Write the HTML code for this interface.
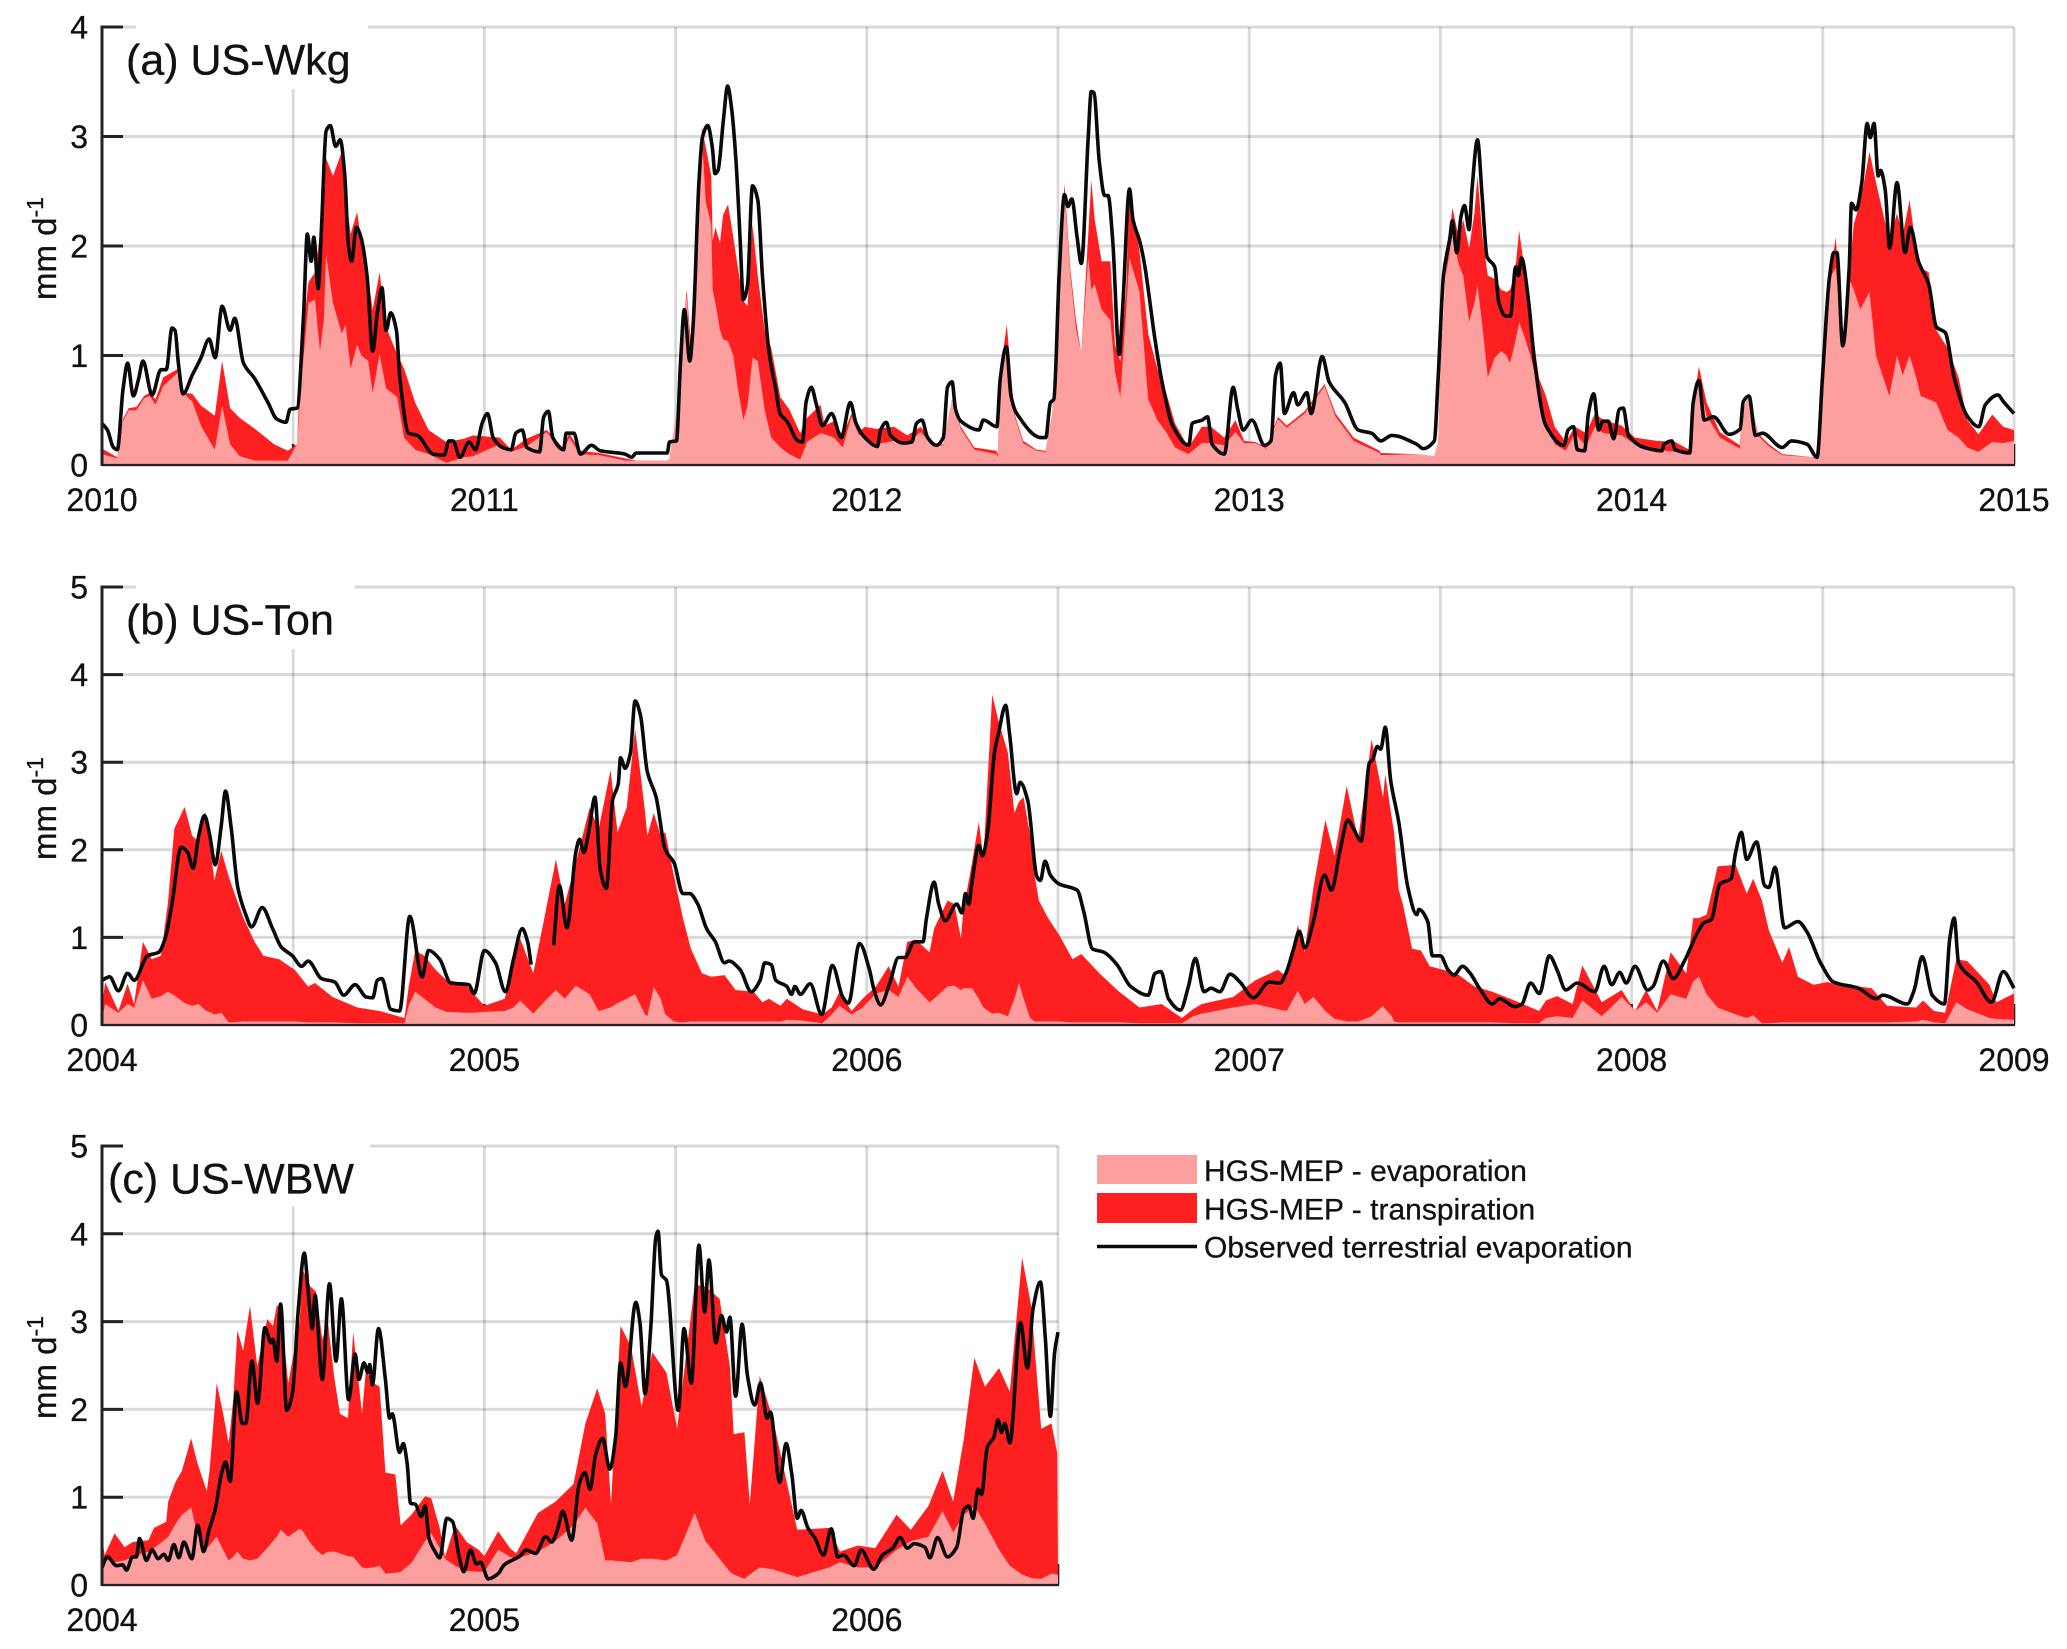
<!DOCTYPE html>
<html lang="en">
<head>
<meta charset="utf-8">
<title>HGS-MEP evaporation and transpiration</title>
<style>
html,body{margin:0;padding:0;background:#fff}
svg{display:block}
text{font-family:"Liberation Sans",Arial,sans-serif;fill:#111;stroke:#111;stroke-width:.3px}
</style>
</head>
<body>
<svg id="figure" xmlns="http://www.w3.org/2000/svg" width="2067" height="1649" viewBox="0 0 2067 1649"></svg>
<script>
/* Values. Time is in years since the start of each panel; values are mm/d. */
const wkgYearLabels = ['2010','2011','2012','2013','2014','2015'];
const wkgValueTicks = [0,1,2,3,4];
const wkgObsTime = [
0,.014,.03,.04,.055,.067,.082,.096,.107,.131,.154,.168,.183,.191,.2,.212,.236,.259,.28,.296,
.314,.335,.347,.37,.399,.434,.457,.481,.492,.51,.527,.537,.547,.554,.565,.574,.586,.597,.611,.623,
.635,.644,.653,.665,.677,.693,.708,.72,.732,.743,.755,.77,.779,.802,.825,.866,.895,.907,.918,.936,
.96,.977,.994,1.008,1.023,1.047,1.07,1.082,1.099,1.111,1.144,1.155,1.167,1.179,1.207,1.214,1.234,1.251,1.28,1.303,
1.368,1.385,1.397,1.478,1.484,1.502,1.513,1.523,1.537,1.546,1.561,1.57,1.584,1.596,1.603,1.611,1.625,1.636,1.646,1.657,
1.669,1.677,1.688,1.701,1.715,1.727,1.744,1.762,1.773,1.791,1.82,1.832,1.841,1.855,1.867,1.884,1.908,1.933,1.957,1.972,
1.995,2.028,2.036,2.051,2.062,2.095,2.118,2.13,2.144,2.159,2.182,2.2,2.211,2.223,2.232,2.246,2.293,2.305,2.34,2.349,
2.365,2.377,2.392,2.456,2.468,2.48,2.489,2.503,2.517,2.526,2.536,2.55,2.561,2.579,2.587,2.594,2.608,2.622,2.631,2.643,
2.66,2.669,2.687,2.696,2.713,2.725,2.754,2.772,2.801,2.842,2.851,2.877,2.891,2.903,2.935,2.958,2.97,2.984,3.007,3.04,
3.057,3.069,3.081,3.092,3.116,3.127,3.151,3.162,3.191,3.209,3.25,3.285,3.32,3.344,3.373,3.438,3.455,3.484,3.494,3.508,
3.525,3.531,3.543,3.554,3.563,3.575,3.583,3.597,3.609,3.622,3.642,3.653,3.671,3.683,3.697,3.704,3.712,3.73,3.747,3.776,
3.823,3.834,3.848,3.858,3.877,3.887,3.901,3.914,3.925,3.939,3.953,3.968,3.978,3.992,4.033,4.079,4.085,4.105,4.114,4.152,
4.161,4.176,4.19,4.214,4.255,4.284,4.292,4.307,4.324,4.342,4.394,4.418,4.459,4.485,4.499,4.517,4.529,4.537,4.552,4.569,
4.575,4.587,4.602,4.616,4.624,4.634,4.645,4.651,4.663,4.675,4.694,4.715,4.729,4.75,4.777,4.797,4.82,4.844,4.879,4.908,
4.925,4.958,4.972,5];
const wkgObsValues = [
.38,.32,.16,.14,.69,.93,.63,.79,.95,.64,.87,.87,1.25,1.23,.92,.65,.82,.98,1.15,.98,
1.45,1.23,1.34,.93,.79,.57,.42,.39,.51,.52,1.36,2.11,1.86,2.08,1.61,2.17,3.05,3.1,2.91,2.97,
2.64,2.02,1.86,2.17,2.08,1.73,1.04,1.39,1.62,1.23,1.39,1.23,.79,.29,.27,.1,.09,.22,.22,.07,
.21,.14,.38,.47,.25,.16,.14,.29,.32,.16,.12,.44,.49,.25,.14,.29,.29,.1,.18,.13,
.1,.07,.11,.11,.21,.22,.95,1.42,.95,1.29,2.58,2.99,3.1,2.9,2.66,2.69,3.15,3.46,3.27,2.83,
2.05,1.51,1.64,2.55,2.42,1.73,1.04,.69,.47,.4,.22,.21,.57,.71,.57,.36,.47,.25,.57,.38,
.25,.17,.32,.39,.27,.2,.21,.38,.41,.25,.18,.25,.71,.76,.51,.4,.32,.41,.35,.79,
1.08,.63,.47,.25,.25,.57,.6,1.73,2.47,2.36,2.43,2.08,1.84,2.99,3.41,3.4,2.77,2.46,2.46,2.05,
1.01,1.42,2.52,2.24,2.05,1.86,1.14,.76,.35,.18,.38,.41,.44,.19,.1,.71,.51,.32,.41,.18,
.22,.82,.93,.47,.66,.55,.66,.47,.99,.76,.57,.32,.29,.22,.27,.19,.15,.22,.79,1.73,
2.08,2.23,1.94,2.27,2.37,2.15,2.53,2.97,2.46,1.9,1.81,1.48,1.36,1.36,1.81,1.73,1.89,1.51,.92,.36,
.18,.32,.35,.14,.13,.47,.65,.32,.4,.4,.24,.51,.52,.27,.16,.13,.19,.22,.14,.11,
.57,.77,.41,.44,.28,.33,.58,.63,.27,.29,.16,.22,.19,.07,.79,1.7,1.94,1.94,1.09,1.8,
2.39,2.33,2.58,3.12,2.99,3.12,2.64,2.69,2.52,1.98,2.58,1.94,2.17,1.86,1.65,1.26,1.21,.79,.44,.35,
.55,.64,.58,.47];
const wkgFillTime = [
0,.04,.055,.07,.09,.11,.125,.14,.16,.2,.212,.236,.26,.295,.314,.335,.36,.4,.45,.486,
.51,.522,.54,.557,.57,.58,.586,.604,.627,.637,.65,.667,.678,.696,.708,.726,.743,.772,.79,.819,
.854,.9,.947,.97,1.04,1.07,1.11,1.163,1.205,1.222,1.25,1.3,1.368,1.397,1.478,1.484,1.502,1.52,1.529,1.54,
1.56,1.569,1.579,1.593,1.597,1.604,1.616,1.624,1.637,1.651,1.663,1.677,1.688,1.701,1.715,1.733,1.75,1.774,1.797,1.826,
1.844,1.879,1.89,1.914,1.937,1.96,1.978,1.995,2.024,2.071,2.106,2.141,2.176,2.2,2.223,2.246,2.281,2.339,2.343,2.347,
2.366,2.386,2.409,2.444,2.468,2.485,2.503,2.517,2.532,2.547,2.561,2.579,2.587,2.596,2.614,2.637,2.649,2.663,2.678,2.687,
2.713,2.736,2.76,2.783,2.806,2.841,2.876,2.9,2.935,2.964,2.987,3.016,3.045,3.075,3.098,3.145,3.197,3.226,3.273,3.341,
3.344,3.438,3.484,3.494,3.502,3.513,3.531,3.548,3.56,3.575,3.589,3.597,3.61,3.624,3.642,3.659,3.673,3.682,3.694,3.706,
3.717,3.735,3.758,3.776,3.799,3.828,3.852,3.881,3.904,3.927,3.974,4.009,4.067,4.114,4.151,4.161,4.176,4.196,4.231,4.283,
4.289,4.307,4.33,4.359,4.394,4.476,4.488,4.499,4.517,4.534,4.552,4.569,4.581,4.598,4.622,4.639,4.674,4.694,4.709,4.727,
4.744,4.756,4.777,4.797,4.826,4.855,4.878,4.907,4.943,4.972,5];
const wkgTotal = [
.15,.07,.42,.52,.53,.63,.66,.6,.8,.88,.66,.65,.54,.45,.95,.52,.43,.33,.19,.13,
.19,1.1,1.67,1.76,2.11,2.45,2.8,2.64,2.86,2.49,2.11,2.31,2.05,1.7,1.42,1.76,1.26,1.01,.88,.57,
.32,.21,.24,.27,.25,.14,.24,.32,.16,.29,.13,.11,.06,.04,.04,.06,.47,1.26,1.6,1.1,
2.6,3.08,2.9,2.64,2.05,2.17,2.03,2.28,2.38,2.08,1.8,1.5,1.45,2.2,1.73,1.23,1.07,.62,.51,.29,
.43,.55,.36,.4,.27,.47,.3,.35,.33,.35,.27,.35,.19,.19,.6,.35,.16,.13,.1,.8,
1.28,.47,.22,.14,.13,.47,1.73,2.57,1.8,1.32,1.02,2.1,2.6,2.24,1.86,1.86,1.1,.95,1.6,2.55,
1.95,1.2,.88,.66,.38,.16,.35,.35,.25,.41,.22,.21,.16,.44,.36,.49,.74,.47,.25,.13,
.11,.1,.08,.2,1,1.7,2.35,2.08,2.24,1.98,2.3,2.64,2.08,1.73,1.7,1.6,1.58,1.6,1.73,2.14,
1.86,1.36,.79,.63,.35,.21,.35,.29,.47,.41,.36,.25,.22,.21,.14,.55,.9,.57,.3,.18,
.47,.66,.29,.19,.1,.07,.08,.79,1.7,2.08,1.1,1.73,2.2,2.4,2.86,2.58,2.05,2.3,2.1,2.42,
1.98,1.8,1.76,1.23,1.07,.8,.41,.28,.46,.35,.32];
const wkgEvap = [
.1,.06,.4,.5,.5,.61,.63,.55,.72,.85,.66,.58,.35,.14,.54,.19,.08,.04,.04,.04,
.19,.79,1.48,1.51,1.04,1.32,1.92,1.48,1.2,1.28,.88,1.1,1,.95,.66,1.01,.7,.62,.25,.14,
.1,.02,.07,.08,.19,.12,.17,.3,.12,.25,.1,.09,.04,.04,.04,.06,.47,1.26,1.55,1,
2.6,2.99,2.4,2.2,1.6,1.48,1.23,1.15,1.13,1,.7,.41,.54,.98,.95,.5,.25,.16,.1,.05,
.21,.29,.28,.25,.16,.44,.28,.25,.19,.22,.2,.3,.17,.18,.6,.33,.14,.1,.07,.8,
1.07,.45,.2,.13,.12,.47,1.73,2.5,1.75,1.25,1.02,1.89,1.6,1.65,1.42,1.32,.85,.62,1.4,1.89,
1.58,.6,.41,.3,.16,.1,.2,.2,.18,.3,.2,.2,.15,.42,.34,.47,.72,.44,.22,.11,
.09,.1,.08,.2,1,1.7,2.1,1.83,1.73,1.31,1.48,1.64,1.26,.8,.98,1.04,1,.93,1.1,1.3,
1.2,1,.7,.38,.19,.13,.29,.17,.35,.29,.27,.19,.14,.12,.1,.52,.78,.45,.25,.15,
.47,.66,.27,.17,.09,.07,.08,.79,1.7,1.8,1.05,1.7,1.6,1.42,1.58,1,.63,1,.82,1,
.8,.63,.6,.57,.32,.25,.16,.12,.21,.2,.22];

const tonYearLabels = ['2004','2005','2006','2007','2008','2009'];
const tonValueTicks = [0,1,2,3,4,5];
const tonObsTime = [
0,.02,.043,.067,.084,.119,.148,.166,.183,.207,.224,.238,.253,.268,.282,.296,.312,.323,.338,.355,
.376,.391,.419,.446,.469,.498,.522,.539,.574,.609,.632,.662,.691,.708,.72,.732,.755,.778,.805,.837,
.854,.883,.912,.959,.973,1,1.029,1.055,1.076,1.099,1.113,1.122,1.15,1.181,1.196,1.216,1.239,1.249,1.26,1.274,
1.289,1.303,1.319,1.335,1.35,1.356,1.368,1.382,1.394,1.408,1.426,1.449,1.473,1.496,1.519,1.537,1.558,1.581,1.604,1.628,
1.639,1.669,1.698,1.721,1.733,1.75,1.762,1.791,1.803,1.812,1.826,1.852,1.882,1.91,1.937,1.952,1.981,2.007,2.019,2.036,
2.06,2.083,2.1,2.124,2.147,2.156,2.176,2.188,2.205,2.235,2.249,2.258,2.267,2.275,2.293,2.302,2.316,2.334,2.345,2.363,
2.373,2.392,2.401,2.421,2.445,2.454,2.466,2.48,2.503,2.55,2.567,2.59,2.62,2.654,2.69,2.736,2.754,2.769,2.789,2.82,
2.841,2.859,2.882,2.9,2.923,2.95,2.976,3.011,3.052,3.081,3.096,3.116,3.131,3.145,3.168,3.197,3.215,3.238,3.258,3.273,
3.293,3.314,3.323,3.335,3.344,3.356,3.37,3.391,3.415,3.438,3.444,3.467,3.479,3.5,3.52,3.535,3.558,3.578,3.602,3.636,
3.654,3.695,3.713,3.736,3.759,3.785,3.805,3.828,3.858,3.904,3.928,3.948,3.969,3.986,4.009,4.042,4.056,4.083,4.109,4.138,
4.173,4.19,4.208,4.231,4.26,4.272,4.287,4.301,4.327,4.348,4.359,4.375,4.4,4.435,4.459,4.494,4.529,4.593,4.64,4.657,
4.721,4.739,4.76,4.786,4.818,4.832,4.844,4.855,4.902,4.941,4.972,5];
const tonObsValues = [
.51,.55,.39,.59,.51,.79,.83,1,1.38,2.03,1.97,1.79,2.16,2.39,2.16,1.83,2.28,2.67,2.24,1.57,
1.26,1.12,1.34,1.1,.89,.79,.67,.73,.53,.49,.34,.46,.32,.31,.51,.53,.18,.16,1.24,.55,
.85,.75,.48,.46,.36,.85,.71,.38,.75,1.1,.95,.69,null,.91,1.59,1.11,1.97,2.12,1.97,2.24,
2.6,1.77,1.56,2.56,2.75,3.05,2.93,3.11,3.7,3.54,2.89,2.6,2,1.85,1.5,1.5,1.38,1.1,.95,.71,
.73,.63,.38,.51,.71,.69,.51,.44,.35,.44,.35,.47,.12,.68,.32,.25,.93,.63,.4,.23,
.48,.77,.77,.95,.95,1.22,1.63,1.38,1.19,1.38,1.28,1.5,1.38,1.63,2.05,1.93,2.2,3.11,3.34,3.65,
3.34,2.64,2.77,2.56,1.69,1.65,1.87,1.71,1.61,1.54,1.3,.87,.83,.69,.44,.34,.59,.61,.3,.17,
.44,.76,.38,.42,.38,.58,.49,.31,.49,.48,.59,.87,1.07,.88,1.18,1.71,1.54,2,2.34,2.24,
2.1,2.99,3.03,3.18,3.15,3.4,2.79,2.32,1.57,1.26,1.32,1.18,.79,.79,.63,.57,.67,.59,.42,.24,
.3,.21,.24,.48,.36,.79,.63,.4,.48,.38,.67,.46,.6,.48,.67,.4,.44,.73,.53,.73,
1.06,1.17,1.2,1.61,1.67,1.97,2.2,1.89,2.09,1.59,1.57,1.8,1.11,1.18,1.06,.71,.49,.42,.3,.34,
.24,.4,.78,.34,.24,.99,1.22,.71,.49,.26,.61,.42];
const tonFillTime = [
0,.008,.043,.067,.084,.107,.13,.154,.172,.189,.216,.236,.253,.27,.294,.312,.331,.341,.37,.399,
.422,.463,.504,.539,.557,.603,.668,.726,.791,.802,.819,.843,.872,.901,.948,.971,1,1.053,1.076,1.093,
1.128,1.153,1.187,1.21,1.239,1.275,1.299,1.33,1.348,1.372,1.394,1.42,1.426,1.443,1.461,1.473,1.496,1.519,1.54,1.569,
1.593,1.628,1.657,1.704,1.727,1.744,1.774,1.791,1.832,1.884,1.908,1.929,1.96,1.989,2.024,2.057,2.083,2.106,2.129,2.164,
2.176,2.211,2.229,2.246,2.252,2.275,2.293,2.305,2.328,2.345,2.369,2.386,2.398,2.41,2.427,2.439,2.45,2.474,2.503,2.538,
2.561,2.608,2.66,2.713,2.771,2.824,2.853,2.876,2.958,3.016,3.075,3.098,3.127,3.145,3.168,3.199,3.223,3.255,3.285,3.32,
3.35,3.356,3.373,3.379,3.391,3.402,3.426,3.449,3.472,3.542,3.589,3.636,3.694,3.758,3.776,3.805,3.846,3.871,3.922,3.974,
4.009,4.038,4.067,4.102,4.143,4.161,4.176,4.196,4.225,4.272,4.301,4.318,4.341,4.359,4.394,4.412,4.435,4.476,4.511,4.628,
4.668,4.744,4.762,4.791,4.82,4.849,4.878,4.936,4.954,5];
const tonTotal = [
.2,.49,.16,.47,.24,.95,.75,.79,1.38,2.24,2.49,2.16,2.09,2.44,1.65,1.99,1.7,1.57,1.22,.95,
.79,.75,.63,.44,.48,.32,.2,.16,.08,.44,.85,.79,.63,.51,.48,.36,.22,.3,.71,.99,
.59,1.14,1.89,1.38,1.85,2.48,2.24,2.91,2.2,2.48,3.38,2.44,2.16,2.42,2.16,2.2,1.69,1.22,.87,.59,
.55,.57,.4,.38,.26,.3,.22,.3,.18,.12,.2,.38,.16,.3,.44,.67,.44,.95,.97,.83,
1.1,1.42,1.38,.99,1.3,1.85,2.32,1.9,3.77,3.46,3.11,2.42,2.55,2.6,2.16,1.7,1.42,1.22,1.03,.75,
.81,.59,.38,.2,.24,.08,.18,.24,.32,.51,.63,.55,1.14,.83,1.57,2.34,1.93,2.73,2.12,3.26,
2.6,2.86,2.36,2.2,1.54,1.38,.87,.85,.67,.59,.44,.38,.28,.16,.28,.33,.24,.68,.26,.4,
.16,.4,.16,.83,.59,1.22,1.22,1.26,1.81,1.83,1.5,1.67,1.42,1.08,.71,.89,.55,.46,.49,.42,
.22,.2,.28,.16,.14,.75,.73,.46,.26,.36];
const tonEvap = [
.05,.24,.14,.24,.2,.51,.3,.33,.38,.34,.25,.22,.24,.17,.12,.14,.03,.03,.04,.04,
.04,.04,.04,.03,.03,.03,.02,.02,.02,.22,.38,.3,.2,.15,.14,.14,.15,.16,.2,.28,
.13,.25,.4,.3,.45,.35,.16,.2,.25,.3,.35,.12,.1,.43,.3,.12,.04,.03,.04,.04,
.04,.04,.04,.04,.04,.04,.04,.06,.05,.02,.12,.22,.12,.2,.36,.4,.32,.55,.42,.26,
.3,.44,.45,.4,.42,.42,.3,.2,.13,.14,.1,.3,.48,.3,.08,.04,.04,.04,.04,.03,
.03,.03,.03,.02,.02,.02,.1,.13,.2,.24,.18,.16,.39,.24,.32,.16,.07,.04,.04,.1,
.22,.18,.1,.04,.03,.03,.03,.03,.03,.03,.03,.03,.02,.02,.08,.1,.08,.28,.1,.32,
.16,.26,.14,.35,.3,.5,.55,.35,.2,.12,.08,.11,.02,.02,.03,.03,.03,.03,.03,.03,
.03,.04,.06,.03,.02,.26,.18,.08,.07,.06];

const wbwYearLabels = ['2004','2005','2006'];
const wbwValueTicks = [0,1,2,3,4,5];
const wbwObsTime = [
0,.014,.038,.054,.064,.08,.09,.098,.116,.131,.147,.162,.173,.188,.201,.214,.235,.25,.266,.279,
.297,.312,.323,.335,.352,.367,.376,.392,.407,.426,.442,.447,.457,.467,.483,.498,.514,.529,.54,.55,
.557,.576,.595,.612,.626,.645,.662,.672,.685,.695,.7,.707,.723,.741,.752,.759,.778,.788,.798,.807,
.819,.835,.845,.855,.871,.883,.902,.917,.933,.946,.964,.979,.99,1.01,1.036,1.052,1.093,1.109,1.134,1.16,
1.176,1.191,1.205,1.228,1.248,1.263,1.276,1.291,1.309,1.328,1.343,1.356,1.369,1.396,1.407,1.42,1.435,1.448,1.454,1.463,
1.476,1.507,1.522,1.541,1.561,1.576,1.587,1.605,1.62,1.633,1.642,1.657,1.674,1.688,1.707,1.722,1.739,1.748,1.772,1.789,
1.804,1.818,1.828,1.846,1.865,1.887,1.907,1.924,1.939,1.967,1.985,2.018,2.041,2.068,2.087,2.106,2.124,2.152,2.165,2.185,
2.211,2.235,2.254,2.267,2.278,2.291,2.3,2.315,2.332,2.343,2.352,2.361,2.374,2.402,2.42,2.435,2.454,2.467,2.48,2.491,
2.5];
const wbwObsValues = [
.2,.32,.22,.23,.17,.32,.32,.53,.28,.4,.3,.35,.28,.46,.31,.49,.3,.68,.38,.61,
.88,1.26,1.4,1.18,2.2,1.84,1.84,2.55,2.07,2.93,2.76,2.8,2.55,3.2,1.99,2.18,3.18,3.78,3.3,2.92,
3.3,2.34,3.43,2.55,3.26,2.11,2.63,2.34,2.53,2.42,2.51,2.28,2.92,2.34,1.9,1.95,1.51,1.61,1.38,.93,
.92,.78,.9,.53,.38,.31,.76,.72,.34,.15,.4,.24,.26,.07,.13,.23,.33,.4,.36,.55,
.49,.63,.84,.51,1.15,1.28,1.09,1.49,1.67,1.32,1.68,2.53,2.26,3.22,2.98,2.18,2.92,3.95,4.03,3.53,
3.47,1.99,2.92,2.3,3.87,3.11,3.7,2.76,3.07,2.88,3.05,2.15,2.97,2.38,2.05,2.3,1.9,1.97,1.17,1.61,
1.26,.76,.85,.65,.53,.34,.64,.32,.34,.22,.4,.18,.34,.42,.54,.42,.47,.43,.31,.54,
.32,.43,.86,.9,.76,1.09,1.03,1.57,1.68,1.88,1.74,1.84,1.62,2.99,2.47,3.15,3.45,2.8,1.92,2.65,
2.88];
const wbwFillTime = [
0,.007,.033,.059,.08,.121,.136,.168,.173,.193,.209,.233,.25,.274,.281,.3,.317,.331,.343,.354,
.369,.387,.406,.432,.447,.457,.467,.487,.517,.524,.545,.56,.576,.591,.607,.622,.643,.657,.68,.69,
.71,.726,.741,.767,.781,.809,.845,.861,.883,.897,.923,.954,.985,1,1.036,1.067,1.083,1.14,1.186,1.233,
1.264,1.295,1.316,1.331,1.356,1.383,1.411,1.439,1.476,1.504,1.55,1.578,1.615,1.642,1.652,1.68,1.694,1.72,1.754,1.818,
1.902,1.93,1.976,2.022,2.078,2.115,2.161,2.198,2.226,2.254,2.281,2.309,2.346,2.374,2.406,2.43,2.456,2.483,2.498,2.5];
const wbwTotal = [
.55,.34,.59,.43,.49,.51,.65,.72,.95,1.18,1.3,1.67,1.38,1.07,1.3,2.3,1.95,1.61,2.11,2.9,
2.67,3.18,2.49,3.03,2.95,3.18,3.18,2.3,3,3.6,3.4,3.34,2.8,2.99,2.38,1.95,1.9,2.88,1.95,2.45,
2.3,2.26,1.28,1.26,.68,.8,1.01,.99,.65,.32,.68,.49,.4,.33,.61,.42,.36,.82,.95,1.15,
1.84,2.24,1.95,.92,2.95,2.72,2.03,2.65,2.42,1.78,3.42,3.4,3.26,2.49,1.72,1.74,.92,2.38,1.9,.63,
.65,.38,.45,.42,.8,.63,.9,1.3,.95,1.67,2.59,2.26,2.47,2.2,3.73,3.18,1.78,1.84,1.5,.1];
const wbwEvap = [
.3,.3,.26,.28,.32,.38,.42,.53,.55,.7,.8,.88,.57,.42,.45,.55,.4,.28,.32,.38,
.3,.28,.3,.42,.5,.55,.63,.55,.64,.62,.48,.4,.34,.38,.38,.36,.33,.32,.2,.19,
.2,.22,.13,.14,.15,.25,.5,.59,.42,.3,.22,.16,.15,.15,.4,.32,.3,.38,.5,.68,
.88,.7,.28,.28,.27,.26,.3,.3,.28,.34,.82,.5,.3,.15,.12,.07,.12,.2,.18,.09,
.2,.26,.2,.2,.4,.5,.55,.84,.6,.8,.9,.7,.4,.22,.12,.08,.07,.13,.12,.1];

const legendLabels = ['HGS-MEP - evaporation','HGS-MEP - transpiration','Observed terrestrial evaporation'];

const SVGNS = 'http://www.w3.org/2000/svg';
const root = document.getElementById('figure');
const EVAP_COLOR = '#fd9f9f';
const TRANSP_COLOR = '#fe2020';

function make(tag, attrs, parent) {
  const el = document.createElementNS(SVGNS, tag);
  for (const k in attrs) el.setAttribute(k, attrs[k]);
  parent.appendChild(el);
  return el;
}
/* Monotone cubic through one unbroken run of screen points, so peaks round off like the source line. */
function smoothRun(pts) {
  const n = pts.length;
  if (n === 0) return '';
  let d = 'M' + pts[0][0].toFixed(1) + ' ' + pts[0][1].toFixed(1);
  const slope = [];
  for (let i = 0; i < n - 1; i++) slope.push((pts[i + 1][1] - pts[i][1]) / Math.max(pts[i + 1][0] - pts[i][0], 0.01));
  const m = [];
  for (let i = 0; i < n; i++) {
    if (i === 0) m.push(slope[0] || 0);
    else if (i === n - 1) m.push(slope[n - 2]);
    else if (slope[i - 1] * slope[i] <= 0) m.push(0);
    else m.push(2 * slope[i - 1] * slope[i] / (slope[i - 1] + slope[i]));
  }
  for (let i = 0; i < n - 1; i++) {
    const h = (pts[i + 1][0] - pts[i][0]) / 3;
    d += 'C' + (pts[i][0] + h).toFixed(1) + ' ' + (pts[i][1] + m[i] * h).toFixed(1) + ' ' +
         (pts[i + 1][0] - h).toFixed(1) + ' ' + (pts[i + 1][1] - m[i + 1] * h).toFixed(1) + ' ' +
         pts[i + 1][0].toFixed(1) + ' ' + pts[i + 1][1].toFixed(1);
  }
  return d;
}
function linePath(times, values, xs, ys) {
  let d = '', run = [];
  const n = Math.min(times.length, values.length);
  for (let i = 0; i < n; i++) {
    if (values[i] === null) { d += smoothRun(run); run = []; continue; }
    run.push([xs(times[i]), ys(values[i])]);
  }
  return d + smoothRun(run);
}
function areaPath(times, values, xs, ys) {
  const n = Math.min(times.length, values.length);
  let d = 'M' + xs(times[0]).toFixed(1) + ' ' + ys(0).toFixed(1);
  for (let i = 0; i < n; i++) d += 'L' + xs(times[i]).toFixed(1) + ' ' + ys(values[i]).toFixed(1);
  d += 'L' + xs(times[n - 1]).toFixed(1) + ' ' + ys(0).toFixed(1) + 'Z';
  return d;
}

function drawPanel(cfg) {
  const g = make('g', {}, root);
  
  
  const xs = t => cfg.left + t * (cfg.right - cfg.left) / cfg.span;
  const vMax = cfg.valueTicks[cfg.valueTicks.length - 1];
  const ys = v => cfg.bottom - v * (cfg.bottom - cfg.top) / vMax;

  cfg.valueTicks.forEach(v => {
    const gl = make('line', {x1: cfg.left, x2: cfg.right, y1: ys(v), y2: ys(v), stroke: 'rgba(0,0,0,0.15)', 'stroke-width': 3}, g);
    
    
  });
  for (let h = 1; h <= cfg.span * 2; h++) {
    const gv = make('line', {x1: xs(h / 2), x2: xs(h / 2), y1: cfg.top, y2: cfg.bottom, stroke: 'rgba(0,0,0,0.15)', 'stroke-width': 2.8}, g);
    
    
    const tk = make('line', {x1: xs(h / 2), x2: xs(h / 2), y1: cfg.bottom - 21, y2: cfg.bottom, stroke: '#222', 'stroke-width': 2.6}, g);
    
    
  }

  const box = make('rect', {x: cfg.boxLeft, y: cfg.top - 2, width: cfg.boxRight - cfg.boxLeft, height: cfg.boxBottom - cfg.top + 2, fill: '#fff'}, g);
  
  

  const red = make('path', {d: areaPath(cfg.fillTime, cfg.total, xs, ys), fill: TRANSP_COLOR}, g);
  
  
  const pink = make('path', {d: areaPath(cfg.fillTime, cfg.evap, xs, ys), fill: EVAP_COLOR}, g);
  
  
  const obs = make('path', {d: linePath(cfg.obsTime, cfg.obsValues, xs, ys), fill: 'none', stroke: '#0a0a0a', 'stroke-width': 3.6, 'stroke-linejoin': 'round', 'stroke-linecap': 'butt'}, g);
  
  

  const bottomAxis = make('line', {x1: cfg.left, x2: cfg.right + 1, y1: cfg.bottom, y2: cfg.bottom, stroke: '#222', 'stroke-width': 2.2}, g);
  
  
  const leftAxis = make('line', {x1: cfg.left, x2: cfg.left, y1: cfg.top - 1.5, y2: cfg.bottom + 1, stroke: '#222', 'stroke-width': 3}, g);
  
  

  cfg.valueTicks.forEach(v => {
    if (v > 0) {
      const tick = make('line', {x1: cfg.left, x2: cfg.left + 21, y1: ys(v), y2: ys(v), stroke: '#222', 'stroke-width': 3}, g);
      
      
    }
    const lab = make('text', {x: cfg.left - 14, y: ys(v) + 11.5, 'text-anchor': 'end', 'font-size': 32}, g);
    lab.textContent = v;
    
    
  });
  cfg.yearLabels.forEach((y, i) => {
    const lab = make('text', {x: xs(i), y: cfg.bottom + 46, 'text-anchor': 'middle', 'font-size': 32}, g);
    lab.textContent = y;
    
    
  });

  const title = make('text', {x: cfg.titleX, y: cfg.top + 47.5, 'font-size': 43}, g);
  title.textContent = cfg.title;
  
  

  const yTitle = make('text', {transform: 'translate(56 ' + (cfg.top + 273) + ') rotate(-90)', 'font-size': 33}, g);
  
  
  const unit = make('tspan', {}, yTitle);
  unit.textContent = 'mm d';
  const sup = make('tspan', {dy: -13, 'font-size': 23}, yTitle);
  sup.textContent = '-1';
}

drawPanel({name: 'us-wkg', title: '(a) US-Wkg', left: 102, right: 2014, top: 27, bottom: 465, span: 5,
  boxLeft: 136, boxRight: 368, boxBottom: 89, titleX: 126,
  yearLabels: wkgYearLabels, valueTicks: wkgValueTicks,
  obsTime: wkgObsTime, obsValues: wkgObsValues, fillTime: wkgFillTime, total: wkgTotal, evap: wkgEvap});
drawPanel({name: 'us-ton', title: '(b) US-Ton', left: 102, right: 2014, top: 587, bottom: 1025, span: 5,
  boxLeft: 136, boxRight: 355, boxBottom: 649, titleX: 126,
  yearLabels: tonYearLabels, valueTicks: tonValueTicks,
  obsTime: tonObsTime, obsValues: tonObsValues, fillTime: tonFillTime, total: tonTotal, evap: tonEvap});
drawPanel({name: 'us-wbw', title: '(c) US-WBW', left: 102, right: 1058, top: 1146, bottom: 1585, span: 2.5,
  boxLeft: 115, boxRight: 370, boxBottom: 1207, titleX: 108,
  yearLabels: wbwYearLabels, valueTicks: wbwValueTicks,
  obsTime: wbwObsTime, obsValues: wbwObsValues, fillTime: wbwFillTime, total: wbwTotal, evap: wbwEvap});

const legend = make('g', {}, root);


const swEvap = make('rect', {x: 1097, y: 1155, width: 100, height: 29, fill: EVAP_COLOR}, legend);


const swTransp = make('rect', {x: 1097, y: 1193, width: 100, height: 30, fill: TRANSP_COLOR}, legend);


const swObs = make('line', {x1: 1097, x2: 1197, y1: 1246.5, y2: 1246.5, stroke: '#0a0a0a', 'stroke-width': 3.4}, legend);


legendLabels.forEach((label, i) => {
  const t = make('text', {x: 1204, y: 1181 + i * 38.3, 'font-size': 30}, legend);
  t.textContent = label;
  
  
});
</script>
</body>
</html>
